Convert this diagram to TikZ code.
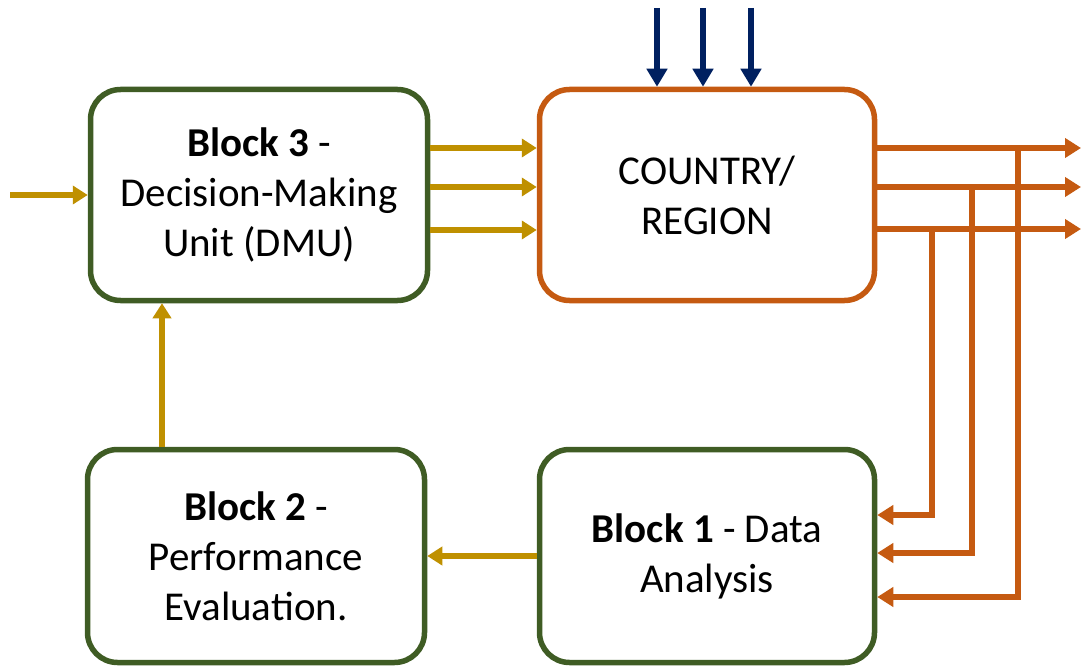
\documentclass[tikz,border=0pt]{standalone}
\usepackage{fontspec}
\setmainfont{Carlito}
\usetikzlibrary{arrows.meta}
\definecolor{blockgreen}{HTML}{3F5C24}
\definecolor{flowgold}{HTML}{BF9000}
\definecolor{regionorange}{HTML}{C55A11}
\definecolor{inputnavy}{HTML}{002060}
\tikzset{
  block/.style={draw=blockgreen, line width=5.5pt, rounded corners=30pt,
    fill=white, align=center, inner sep=0pt,
    font=\fontsize{41}{50}\selectfont},
  regionbox/.style={block, draw=regionorange},
  goldflow/.style={draw=flowgold, line width=6pt,
    -{Triangle[length=15pt,width=18pt]}},
  orangeflow/.style={draw=regionorange, line width=6pt,
    -{Triangle[length=16pt,width=19pt]}},
  navyflow/.style={draw=inputnavy, line width=6.5pt,
    -{Triangle[length=18pt,width=20pt]}},
}
\begin{document}
\begin{tikzpicture}[x=1pt, y=-1pt]
\useasboundingbox (0,0) rectangle (1081,668);

% blocks
\node[block, minimum width=337pt, minimum height=211pt] (b3) at (259,195)
  {\textbf{Block 3} -\\Decision-Making\\Unit (DMU)};
\node[regionbox, minimum width=335pt, minimum height=211pt] (cr) at (707,195)
  {COUNTRY/\\REGION};
\node[block, minimum width=337pt, minimum height=213pt] (b2) at (256,556)
  {\textbf{Block 2} -\\Performance\\Evaluation.};
\node[block, minimum width=335pt, minimum height=213pt] (b1) at (707,556)
  {\textbf{Block 1} - Data\\Analysis};

% free ends
\coordinate (in) at (10,195);
\coordinate (n1) at (657,8);
\coordinate (n2) at (703,8);
\coordinate (n3) at (751,8);
\coordinate (o1) at (1081,148);
\coordinate (o2) at (1081,187);
\coordinate (o3) at (1081,229);
\coordinate (t1) at (1018,148);
\coordinate (t2) at (972,187);
\coordinate (t3) at (932,229);

% decision flow
\draw[goldflow] (in) -- (b3.west |- in);
\draw[goldflow] (b3.east |- 0,148) -- (cr.west |- 0,148);
\draw[goldflow] (b3.east |- 0,187) -- (cr.west |- 0,187);
\draw[goldflow] (b3.east |- 0,230) -- (cr.west |- 0,230);
\draw[goldflow] (b2.north -| 162,0) -- (b3.south -| 162,0);
\draw[goldflow] (b1.west) -- (b2.east);

% external inputs
\draw[navyflow] (n1) -- (cr.north -| n1);
\draw[navyflow] (n2) -- (cr.north -| n2);
\draw[navyflow] (n3) -- (cr.north -| n3);

% outputs
\draw[orangeflow] (cr.east |- o1) -- (o1);
\draw[orangeflow] (cr.east |- o2) -- (o2);
\draw[orangeflow] (cr.east |- o3) -- (o3);

% feedback to data analysis
\draw[orangeflow] (t1) |- (b1.east |- 0,597);
\draw[orangeflow] (t2) |- (b1.east |- 0,553);
\draw[orangeflow] (t3) |- (b1.east |- 0,515);
\end{tikzpicture}
\end{document}
